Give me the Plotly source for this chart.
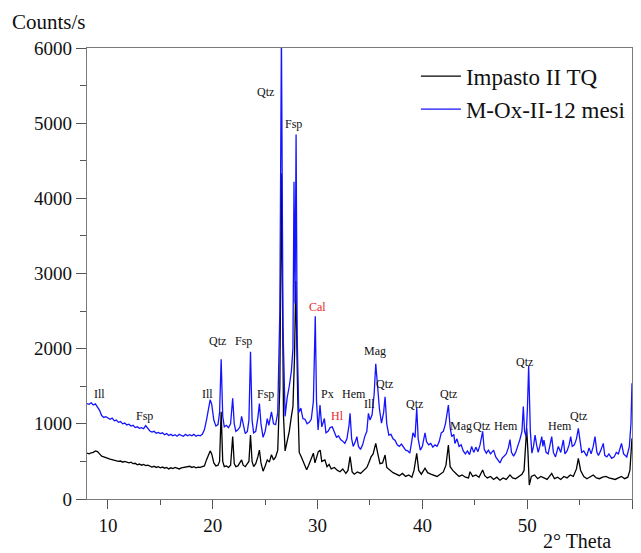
import plotly.graph_objects as go

# ---------------- data ----------------
theta_blue = [8.0, 8.2, 8.4, 8.6, 8.8, 9.0, 9.2, 9.4, 9.6, 9.8, 10.0, 10.2, 10.4, 10.6, 10.8, 11.0, 11.2, 11.4, 11.6, 11.8,
              12.0, 12.2, 12.4, 12.6, 12.8, 13.0, 13.2, 13.4, 13.6, 13.8, 14.0, 14.2, 14.4, 14.6, 14.8, 15.0, 15.2, 15.4,
              15.6, 15.8, 16.0, 16.2, 16.4, 16.6, 16.8, 17.0, 17.2, 17.4, 17.6, 17.8, 18.0, 18.2, 18.4, 18.6, 18.8, 19.0,
              19.2, 19.4, 19.6, 19.75, 19.9, 20.1, 20.3, 20.5, 20.65, 20.8, 20.95, 21.1, 21.3, 21.5, 21.7, 21.9, 22.05,
              22.2, 22.4, 22.6, 22.75, 22.9, 23.1, 23.3, 23.45, 23.6, 23.75, 23.9, 24.1, 24.3, 24.45, 24.6, 24.8, 25.0,
              25.2, 25.35, 25.6, 25.8, 26.0, 26.2, 26.4, 26.55, 26.7, 26.9, 27.1, 27.3, 27.5, 27.65, 27.75, 27.85, 27.95,
              28.05, 28.2, 28.4, 28.6, 28.8, 29.0, 29.2, 29.4, 29.6, 29.78, 29.9, 30.05, 30.23, 30.4, 30.65, 30.8, 31.0,
              31.2, 31.4, 31.6, 31.8, 32.0, 32.2, 32.4, 32.6, 32.8, 33.0, 33.1, 33.25, 33.4, 33.6, 33.75, 33.9, 34.1,
              34.3, 34.5, 34.7, 34.85, 35.0, 35.2, 35.4, 35.55, 35.7, 35.9, 36.1, 36.3, 36.44, 36.6, 36.8, 37.0, 37.2,
              37.4, 37.6, 37.8, 38.0, 38.2, 38.4, 38.6, 38.8, 39.0, 39.1, 39.3, 39.46, 39.6, 39.8, 40.0, 40.25, 40.4,
              40.6, 40.8, 41.0, 41.2, 41.4, 41.6, 41.8, 42.0, 42.2, 42.48, 42.65, 42.8, 43.0, 43.1, 43.3, 43.5, 43.7,
              43.9, 44.1, 44.3, 44.5, 44.7, 44.9, 45.1, 45.3, 45.5, 45.75, 45.9, 46.1, 46.3, 46.5, 46.8, 47.0, 47.2,
              47.4, 47.6, 47.8, 48.0, 48.2, 48.36, 48.5, 48.7, 48.9, 49.1, 49.3, 49.5, 49.63, 49.75, 49.9, 50.02, 50.14,
              50.3, 50.45, 50.6, 50.75, 50.9, 51.05, 51.2, 51.39, 51.5, 51.6, 51.8, 52.0, 52.15, 52.34, 52.5, 52.7,
              52.97, 53.2, 53.45, 53.6, 53.8, 54.0, 54.15, 54.3, 54.5, 54.7, 54.88, 55.05, 55.2, 55.4, 55.68, 55.9,
              56.1, 56.3, 56.47, 56.65, 56.8, 57.0, 57.26, 57.4, 57.6, 57.8, 58.06, 58.3, 58.5, 58.7, 59.0, 59.2, 59.5,
              59.75, 59.9, 60.0]
counts_blue = [1270, 1260, 1280, 1250, 1265, 1230, 1180, 1110, 1085, 1095, 1080, 1060, 1075, 1040, 1050, 1020, 1030, 1000, 1010, 985,
               995, 970, 980, 950, 960, 940, 950, 935, 975, 940, 905, 890, 900, 875, 885, 870, 880, 855,
               870, 845, 860, 840, 855, 835, 860, 845, 835, 860, 840, 855, 840, 860, 835, 850, 840, 860,
               920, 1050, 1230, 1320, 1260, 1050, 970, 990, 1150, 1860, 1100, 960, 980, 950, 1000, 1340, 1000,
               900, 920, 960, 1100, 980, 870, 900, 1050, 1960, 1050, 880, 900, 1080, 1270, 1000, 820, 900,
               1070, 980, 1160, 1000, 990, 1150, 2500, 6200, 2300, 1100, 1350, 1500, 1700, 2000, 4220, 2600, 4850,
               2200, 1150, 1210, 1070, 1060, 1000, 1020, 1060, 1300, 2430, 1300, 920, 1250, 960, 1070, 880, 900,
               950, 960, 880, 820, 840, 790, 770, 740, 800, 980, 1140, 800, 700, 760, 830, 700, 660,
               720, 830, 900, 1140, 1050, 1120, 1400, 1800, 1500, 1200, 1010, 1150, 1360, 1000, 850, 860, 800,
               780, 720, 700, 730, 680, 650, 640, 610, 780, 880, 820, 1210, 800, 650, 700, 880, 760,
               720, 740, 690, 720, 700, 760, 880, 900, 1000, 1250, 950, 830, 860, 740, 800, 700, 720,
               640, 600, 640, 590, 700, 620, 690, 630, 720, 900, 660, 610, 650, 600, 650, 560, 520,
               480, 540, 570, 600, 680, 790, 620, 570, 620, 700, 790, 900, 1230, 900, 830, 1200, 1770,
               900, 610, 700, 850, 720, 620, 700, 830, 700, 785, 620, 600, 700, 830, 620, 560,
               700, 620, 785, 600, 640, 720, 830, 700, 720, 800, 940, 780, 620, 640, 570, 680,
               600, 700, 830, 620, 580, 640, 740, 580, 560, 600, 540, 560, 620, 600, 740, 600, 560,
               700, 1000, 1540]

theta_black = [8.0, 8.2, 8.4, 8.6, 8.8, 9.0, 9.2, 9.4, 9.6, 9.8, 10.0, 10.2, 10.4, 10.6, 10.8, 11.0, 11.2, 11.4, 11.6, 11.8,
               12.0, 12.2, 12.4, 12.6, 12.8, 13.0, 13.2, 13.4, 13.6, 13.8, 14.0, 14.2, 14.4, 14.6, 14.8, 15.0, 15.2, 15.4,
               15.6, 15.8, 16.0, 16.2, 16.4, 16.6, 16.8, 17.0, 17.2, 17.4, 17.6, 17.8, 18.0, 18.2, 18.4, 18.6, 18.8, 19.0,
               19.2, 19.4, 19.6, 19.75, 19.9, 20.1, 20.3, 20.5, 20.65, 20.8, 20.95, 21.1, 21.3, 21.5, 21.7, 21.9, 22.05,
               22.2, 22.4, 22.6, 22.75, 22.9, 23.1, 23.3, 23.45, 23.6, 23.75, 23.9, 24.1, 24.3, 24.45, 24.6, 24.8, 25.0,
               25.2, 25.4, 25.6, 25.8, 26.0, 26.2, 26.4, 26.55, 26.75, 26.9, 27.1, 27.3, 27.5, 27.65, 27.8, 27.92, 28.1,
               28.25, 28.45, 28.7, 28.96, 29.15, 29.34, 29.6, 29.75, 29.9, 30.07, 30.25, 30.4, 30.7, 30.9, 31.1, 31.3,
               31.6, 31.9, 32.14, 32.4, 32.7, 32.9, 33.1, 33.3, 33.5, 33.8, 34.1, 34.4, 34.7, 34.87, 35.1, 35.3, 35.55,
               35.75, 35.95, 36.2, 36.44, 36.6, 36.9, 37.2, 37.5, 37.8, 38.1, 38.4, 38.7, 39.0, 39.2, 39.46, 39.65, 39.9,
               40.25, 40.5, 40.8, 41.1, 41.4, 41.7, 42.0, 42.25, 42.48, 42.65, 42.9, 43.2, 43.5, 43.8, 44.1, 44.4, 44.55,
               44.8, 45.1, 45.4, 45.75, 45.95, 46.2, 46.5, 46.8, 47.1, 47.4, 47.7, 48.0, 48.36, 48.6, 48.9, 49.2, 49.5,
               49.7, 49.95, 50.08, 50.2, 50.4, 50.7, 51.0, 51.3, 51.6, 51.9, 52.34, 52.6, 52.9, 53.2, 53.5, 53.8, 54.1,
               54.4, 54.7, 54.88, 55.1, 55.4, 55.7, 56.0, 56.3, 56.6, 56.9, 57.2, 57.5, 57.8, 58.1, 58.4, 58.7, 59.0,
               59.3, 59.6, 59.8, 59.9, 60.0]
counts_black = [610, 600, 615, 620, 640, 630, 600, 570, 560, 545, 540, 530, 525, 510, 515, 500, 505, 490, 500, 485,
                480, 490, 470, 475, 455, 465, 450, 460, 445, 450, 440, 425, 435, 420, 430, 415, 425, 410,
                420, 400, 415, 405, 420, 410, 400, 415, 420, 430, 425, 435, 420, 430, 415, 425, 420, 430,
                440, 520, 600, 640, 600, 480, 440, 450, 500, 1160, 500, 430, 440, 420, 450, 830, 470,
                430, 440, 480, 520, 450, 430, 470, 500, 850, 500, 430, 470, 560, 650, 480, 370, 440,
                520, 490, 590, 520, 560, 650, 1500, 4330, 1100, 640, 760, 900, 1100, 1230, 1900, 2900, 1400,
                620, 560, 470, 390, 450, 520, 610, 480, 560, 630, 650, 500, 520, 430, 460, 400,
                420, 380, 363, 400, 340, 380, 563, 360, 330, 360, 340, 380, 420, 475, 560, 600, 740,
                600, 470, 480, 585, 420, 380, 350, 330, 310, 340, 300, 320, 290, 380, 608, 380, 330,
                410, 350, 330, 320, 300, 330, 360, 450, 718, 430, 380, 340, 300, 320, 290, 280, 363,
                300, 320, 290, 386, 310, 280, 300, 260, 290, 250, 280, 260, 320, 280, 270, 300, 330,
                380, 940, 600, 186, 300, 320, 270, 300, 280, 260, 341, 270, 290, 260, 300, 280, 320,
                300, 400, 541, 380, 300, 270, 290, 320, 280, 270, 290, 300, 280, 270, 260, 280, 300,
                270, 290, 380, 560, 807]

phase_labels = ["Ill", "Fsp", "Ill", "Qtz", "Fsp", "Fsp", "Qtz", "Fsp", "Cal", "Px", "Hl", "Hem", "Ill", "Mag",
                "Qtz", "Qtz", "Qtz", "Mag", "Qtz", "Hem", "Qtz", "Hem", "Qtz"]
phase_theta = [9.15, 13.53, 19.48, 20.44, 22.92, 24.99, 24.99, 27.69, 29.98, 30.97, 31.92, 33.48, 34.94, 35.48,
               36.34, 39.23, 42.51, 43.69, 45.6, 47.95, 49.76, 53.13, 54.85]
phase_counts = [1397, 1104, 1397, 2106, 2106, 1397, 5417, 4988, 2558, 1397, 1108, 1397, 1259, 1968,
                1530, 1259, 1397, 971, 971, 971, 1826, 971, 1104]
phase_red = ["Cal", "Hl"]

series_names = ["Impasto II TQ", "M-Ox-II-12 mesi"]

# ---------------- figure ----------------
# the page body has an 8px margin, so the figure is 8px smaller than the window
SERIF = "Liberation Serif, Times New Roman, serif"
fig = go.Figure()
fig.add_trace(go.Scatter(x=theta_black, y=counts_black, mode="lines", name=series_names[0],
                         line=dict(color="#000000", width=1.3)))
fig.add_trace(go.Scatter(x=theta_blue, y=counts_blue, mode="lines", name=series_names[1],
                         line=dict(color="#1414ff", width=1.3)))

for lab, tx, ty in zip(phase_labels, phase_theta, phase_counts):
    fig.add_annotation(x=tx, y=ty, text=lab, showarrow=False, xanchor="center", yanchor="middle",
                       font=dict(family=SERIF, size=12,
                                 color="#e8282a" if lab in phase_red else "#111111"))

fig.add_annotation(xref="paper", yref="paper", x=-0.142, y=1.058, text="Counts/s", showarrow=False,
                   xanchor="left", yanchor="middle", font=dict(family=SERIF, size=21, color="#111"))
fig.add_annotation(xref="paper", yref="paper", x=0.965, y=-0.093, text="2° Theta", showarrow=False,
                   xanchor="right", yanchor="middle", font=dict(family=SERIF, size=20, color="#111"))

axis_common = dict(showline=True, linecolor="#7a7a7a", linewidth=1.3, mirror=True, showgrid=False,
                   zeroline=False, ticks="outside", tickcolor="#555", tickwidth=1.2,
                   tickfont=dict(family=SERIF, size=19, color="#111"))
fig.update_xaxes(range=[8, 60], tick0=0, dtick=10, ticklen=9,
                 minor=dict(dtick=5, tick0=0, ticklen=5, ticks="outside", tickcolor="#555"), **axis_common)
fig.update_yaxes(range=[0, 6000], tick0=0, dtick=1000, ticklen=10,
                 minor=dict(dtick=500, tick0=0, ticklen=6, ticks="outside", tickcolor="#555"), **axis_common)

fig.update_layout(
    width=633, height=545,
    margin=dict(l=79, r=9, t=40, b=54),
    paper_bgcolor="white", plot_bgcolor="white",
    showlegend=True,
    legend=dict(x=0.998, y=0.985, xanchor="right", yanchor="top", bgcolor="rgba(255,255,255,0)",
                font=dict(family=SERIF, size=23, color="#111"), tracegroupgap=0, itemwidth=40),
)

fig.write_html("out.html")
